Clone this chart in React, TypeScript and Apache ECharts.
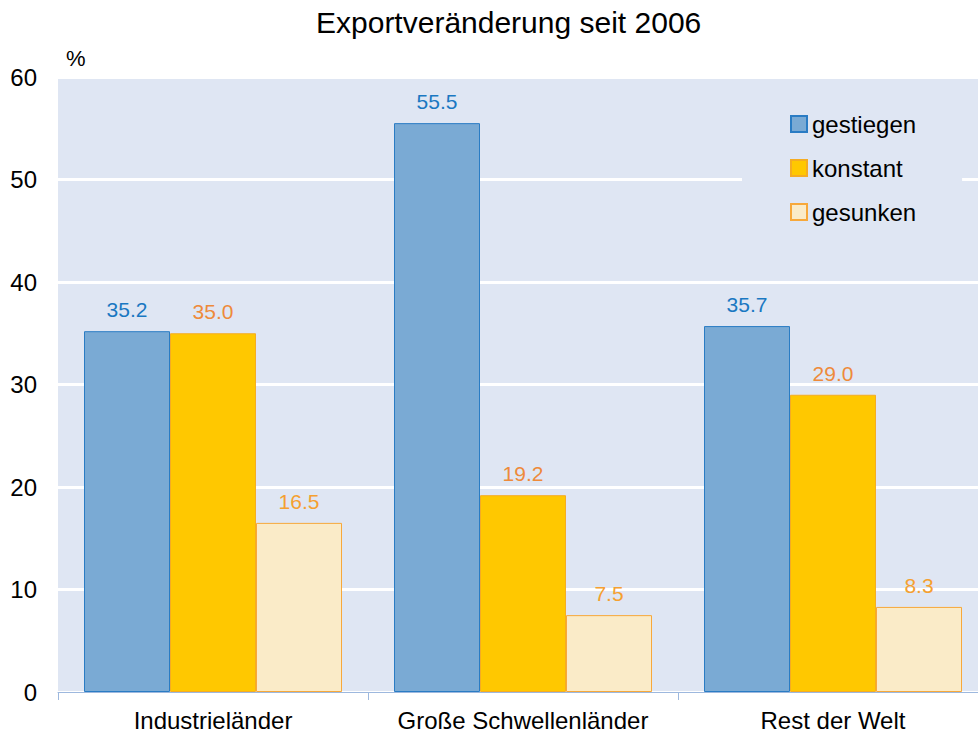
import React, { useEffect, useRef } from "react";
import * as echarts from "echarts";

const categories = ["Industrieländer", "Große Schwellenländer", "Rest der Welt"];
const gestiegen = [35.2, 55.5, 35.7];
const konstant = [35.0, 19.2, 29.0];
const gesunken = [16.5, 7.5, 8.3];
const seriesNames = ["gestiegen", "konstant", "gesunken"];
const yMin = 0;
const yMax = 60;
const yStep = 10;

const FONT = "'Liberation Sans', Arial, sans-serif";

export default function App() {
  const ref = useRef<HTMLDivElement>(null);
  useEffect(() => {
    if (!ref.current) return;
    const chart = echarts.init(ref.current, undefined, { renderer: "svg" });
    const mk = (name: string, data: number[], fill: string, border: string, labelColor: string) => ({
      name,
      type: "bar",
      data,
      barWidth: 86,
      barGap: "0%",
      itemStyle: { color: fill, borderColor: border, borderWidth: 1 },
      label: {
        show: true,
        position: "top",
        distance: 11,
        color: labelColor,
        fontSize: 21,
        fontFamily: FONT,
        formatter: (p: any) => Number(p.value).toFixed(1),
      },
    });
    chart.setOption({
      animation: false,
      textStyle: { fontFamily: FONT },
      title: {
        text: "Exportveränderung seit 2006",
        left: 311,
        top: 2,
        textStyle: { fontSize: 30, fontWeight: "normal", color: "#000", fontFamily: FONT },
      },
      legend: {
        data: seriesNames,
        orient: "vertical",
        left: 742,
        top: 102,
        icon: "rect",
        itemWidth: 16,
        itemHeight: 16,
        itemGap: 20,
        padding: [10, 46, 10, 48],
        backgroundColor: "#dfe6f3",
        textStyle: { fontSize: 24, color: "#000", fontFamily: FONT },
      },
      grid: {
        left: 58,
        top: 77,
        width: 930,
        height: 615,
        show: true,
        backgroundColor: "#dfe6f3",
        borderWidth: 0,
        containLabel: false,
      },
      xAxis: {
        type: "category",
        data: categories,
        axisLine: { show: true, lineStyle: { color: "#9db8de", width: 1 } },
        axisTick: { show: true, interval: 0, length: 8, lineStyle: { color: "#9db8de" } },
        axisLabel: { interval: 0, hideOverlap: false, fontSize: 24, color: "#000", margin: 16, fontFamily: FONT },
      },
      yAxis: {
        type: "value",
        min: yMin,
        max: yMax,
        interval: yStep,
        name: "%",
        nameLocation: "end",
        nameGap: 8,
        nameTextStyle: { fontSize: 22, color: "#000", align: "left", padding: [0, 0, 0, 8], fontFamily: FONT },
        axisLine: { show: false },
        axisTick: { show: false },
        axisLabel: { fontSize: 24, color: "#000", margin: 21, fontFamily: FONT },
        splitLine: { show: true, lineStyle: { color: "#ffffff", width: 3 } },
      },
      series: [
        mk(seriesNames[0], gestiegen, "#7aaad4", "#2a7cc4", "#1a78c2"),
        mk(seriesNames[1], konstant, "#ffc800", "#f5ac22", "#ee8a3a"),
        mk(seriesNames[2], gesunken, "#faebc8", "#f7a83a", "#f5a030"),
      ],
    });
    return () => chart.dispose();
  }, []);
  return (
    <div style={{ position: "fixed", left: 0, top: 0, width: 978, height: 742, overflow: "hidden", background: "#fff" }}>
      <div ref={ref} style={{ width: 1000, height: 742 }} />
    </div>
  );
}
